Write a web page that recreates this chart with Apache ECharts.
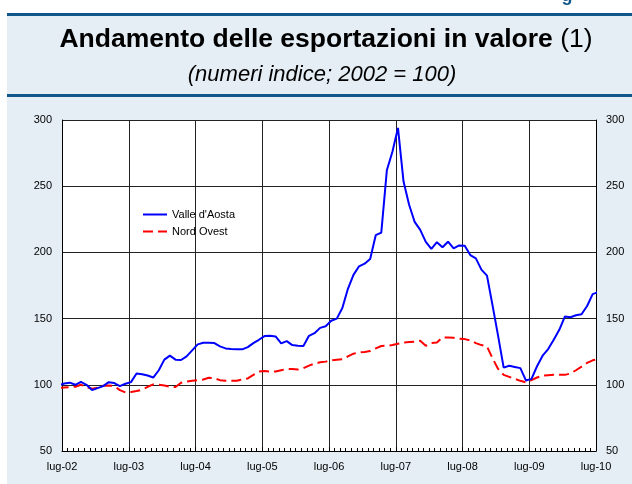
<!DOCTYPE html>
<html>
<head>
<meta charset="utf-8">
<script src="https://cdn.jsdelivr.net/npm/echarts@6/dist/echarts.min.js"></script>
<style>
html,body{margin:0;padding:0;background:#fff;}
#c{width:632px;height:484px;}
</style>
</head>
<body>
<div id="c"></div>
<script>
// Monthly data, Jun-02 .. Jul-10 (index 2002 = 100)
const firstMonth = -1;           // Jun-02, months relative to Jul-02
const midMonth = 0.4;            // observations dated mid-month
const xTickLabels = ['lug-02','lug-03','lug-04','lug-05','lug-06','lug-07','lug-08','lug-09','lug-10'];
const seriesNames = ["Valle d'Aosta", 'Nord Ovest'];
const valleAosta = [
  99.5, 101, 101.6, 100, 102.3, 100, 96, 97.5, 99, 102, 101.3, 99, 100.8,
  102, 108.5, 108, 107, 105.5, 111, 119, 122, 119, 118.7, 121.5, 126,
  130.5, 131.8, 131.8, 131.5, 129, 127.5, 127, 126.8, 126.8, 128.5, 131.5, 134,
  136.8, 137, 136.5, 131.3, 133, 130, 129.5, 129.3, 137, 139, 143, 144.2,
  148.4, 150, 158, 172.5, 183, 189.5, 191.5, 195, 213, 215, 262, 276,
  294, 253.5, 236, 223, 217, 208, 202.6, 207.7, 203.9, 208.1, 203.1, 205.3,
  205, 198, 195.5, 187, 182.5, 160, 137, 113, 114.4, 113.5, 112.6, 103.3,
  104.5, 114, 122, 127, 134, 141.5, 151.5, 151, 152.5, 153.3, 159.5, 168.5,
  170
];
const nordOvest = [
  97.5, 98, 98.3, 98.5, 100, 98.3, 97, 97.8, 99.3, 99.5, 99, 96, 94.3,
  94.5, 95.3, 96.3, 98.5, 100.3, 100, 99.5, 98.5, 98.3, 101.5, 102.5, 103,
  103.5, 104, 105.3, 105, 103.5, 103, 103, 103, 104, 104.8, 107.5, 110,
  110.5, 110, 110, 111, 112, 112, 111.5, 112.5, 114.5, 116, 117, 117.5,
  118.5, 119, 119.3, 121.5, 123.5, 124.5, 124.8, 125.5, 127.5, 129.3, 129.5, 130,
  131, 132, 132.3, 132.5, 133.2, 129.5, 131.5, 132, 135.8, 135.8, 135.5, 134.8,
  134.5, 133.5, 131.5, 130, 129, 120, 112, 107.5, 106, 104.5, 103, 101.8,
  103.5, 105.5, 107, 107.3, 107.5, 107.5, 107.5, 108.5, 111, 113.7, 116.5, 118.5,
  119.5
];

const toPoints = arr => arr.map((v, i) => [firstMonth + i + midMonth, v]);
const FONT = "'Liberation Sans', Arial, sans-serif";
const chart = echarts.init(document.getElementById('c'));

const yAxisBase = {
  type: 'value', min: 50, max: 300, interval: 50,
  axisLine: {show: true, lineStyle: {color: '#000', width: 1}},
  axisTick: {show: false},
  axisLabel: {color: '#000', fontSize: 11, fontFamily: FONT, margin: 10},
};

chart.setOption({
  backgroundColor: '#e5eef5',
  animation: false,
  graphic: [
    {type: 'rect', shape: {x: 0, y: 0, width: 632, height: 14}, style: {fill: '#fff'}, silent: true},
    {type: 'rect', shape: {x: 0, y: 0, width: 7, height: 484}, style: {fill: '#fff'}, silent: true},
    {type: 'rect', shape: {x: 7, y: 13, width: 625, height: 3}, style: {fill: '#11578a'}, silent: true},
    {type: 'rect', shape: {x: 7, y: 94, width: 625, height: 3}, style: {fill: '#11578a'}, silent: true},
    {type: 'text', x: 567, y: -13, style: {text: 'g', fill: '#11578a', font: 'bold 18px ' + FONT, align: 'center', verticalAlign: 'top'}, silent: true},
    {type: 'text', x: 326, y: 40, style: {
      text: '{b|Andamento delle esportazioni in valore}{n| (1)}',
      align: 'center', verticalAlign: 'middle',
      rich: {
        b: {font: 'bold 26.5px ' + FONT, fill: '#000'},
        n: {font: '26.5px ' + FONT, fill: '#000'}
      }
    }, silent: true},
    {type: 'text', x: 322, y: 75, style: {
      text: '(numeri indice; 2002 = 100)', fill: '#000',
      font: 'italic 22px ' + FONT, align: 'center', verticalAlign: 'middle'
    }, silent: true}
  ],
  grid: {left: 62, right: 36, top: 120, bottom: 33, show: true, backgroundColor: '#fff', borderWidth: 0},
  legend: {
    orient: 'vertical', left: 137, top: 204, itemWidth: 24, itemHeight: 11, itemGap: 6,
    itemStyle: {color: 'rgba(0,0,0,0)', borderWidth: 0, opacity: 0},
    textStyle: {fontSize: 11, fontFamily: FONT, color: '#000'},
    data: seriesNames
  },
  xAxis: {
    type: 'value', min: 0, max: 96, interval: 12,
    axisLine: {show: true, onZero: false, lineStyle: {color: '#000', width: 1}},
    axisTick: {show: true, inside: true, length: 4, lineStyle: {color: '#000'}},
    minorTick: {show: true, splitNumber: 12, length: 3, lineStyle: {color: '#000'}},
    splitLine: {show: true, lineStyle: {color: '#222', width: 1}},
    axisLabel: {
      color: '#000', fontSize: 11, fontFamily: FONT, margin: 10,
      formatter: v => xTickLabels[Math.round(v / 12)] || ''
    }
  },
  yAxis: [
    Object.assign({}, yAxisBase, {position: 'left', splitLine: {show: true, lineStyle: {color: '#222', width: 1}}}),
    Object.assign({}, yAxisBase, {position: 'right', splitLine: {show: false}})
  ],
  series: [
    {
      name: seriesNames[0], type: 'line', data: toPoints(valleAosta),
      symbol: 'none', clip: true, z: 3,
      lineStyle: {color: '#0000ff', width: 2}, itemStyle: {color: '#0000ff'}
    },
    {
      name: seriesNames[1], type: 'line', data: toPoints(nordOvest),
      symbol: 'none', clip: true, z: 2,
      lineStyle: {color: '#ff0000', width: 2, type: [10, 5]}, itemStyle: {color: '#ff0000'}
    }
  ]
});
</script>
</body>
</html>
